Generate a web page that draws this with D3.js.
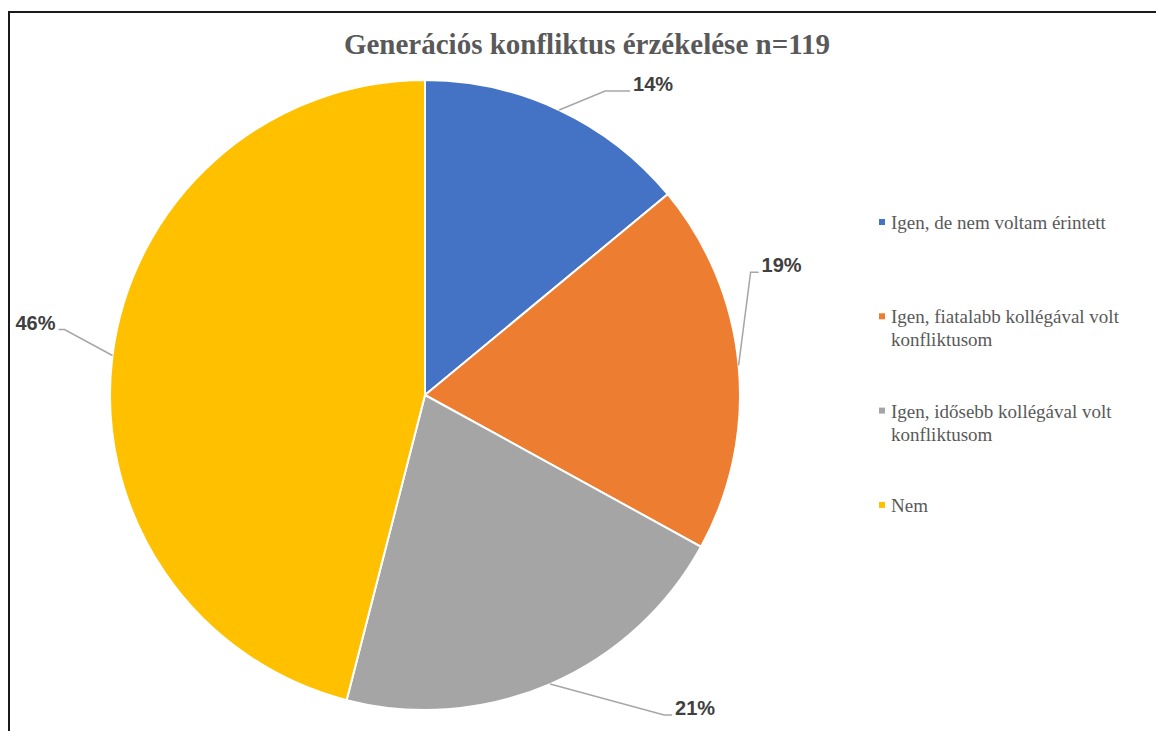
<!DOCTYPE html>
<html>
<head>
<meta charset="utf-8">
<script src="https://cdn.jsdelivr.net/npm/d3@7"></script>
<style>
  body { margin: 0; background: #fff; }
  svg { display: block; }
</style>
</head>
<body>
<div id="chart"></div>
<script>
// data
var title = "Generációs konfliktus érzékelése n=119";
var categories = [
    "Igen, de nem voltam érintett",
    "Igen, fiatalabb kollégával volt konfliktusom",
    "Igen, idősebb kollégával volt konfliktusom",
    "Nem"
];
var legendLines = [
    ["Igen, de nem voltam érintett"],
    ["Igen, fiatalabb kollégával volt", "konfliktusom"],
    ["Igen, idősebb kollégával volt", "konfliktusom"],
    ["Nem"]
];
var shares = [14, 19, 21, 46];
var colors = ["#4472C4", "#ED7D31", "#A5A5A5", "#FFC000"];

// layout
var width = 1156, height = 731;
var cx = 425, cy = 395, radius = 315;
// label text position (x, baseline) relative to the slice's anchor on the rim
var labelOffsets = [[74, -19], [23, -93], [125, 31], [-57, -26]];

var svg = d3.select("#chart").append("svg")
    .attr("width", width)
    .attr("height", height);

// frame
svg.append("path")
    .attr("d", "M9," + height + " L9,12 L" + width + ",12")
    .attr("fill", "none")
    .attr("stroke", "#1a1a1a")
    .attr("stroke-width", 2);

svg.append("text")
    .attr("x", 587)
    .attr("y", 54)
    .attr("text-anchor", "middle")
    .attr("font-family", "'Liberation Serif', 'Times New Roman', serif")
    .attr("font-weight", "bold")
    .attr("font-size", 29)
    .attr("fill", "#595959")
    .text(title);

var pie = d3.pie().sort(null).value(function (d) { return d; });
var arcs = pie(shares);
var arc = d3.arc().innerRadius(0).outerRadius(radius);

var g = svg.append("g").attr("transform", "translate(" + cx + "," + cy + ")");

g.selectAll("path.slice")
    .data(arcs).enter().append("path")
    .attr("class", "slice")
    .attr("d", arc)
    .attr("fill", function (d, i) { return colors[i]; })
    .attr("stroke", "#fff")
    .attr("stroke-width", 2);

var total = d3.sum(shares);
var fmt = d3.format(".0%");

arcs.forEach(function (d, i) {
    var mid = (d.startAngle + d.endAngle) / 2;
    var ax = Math.sin(mid) * radius;
    var ay = -Math.cos(mid) * radius;
    var tx = ax + labelOffsets[i][0];
    var ty = ay + labelOffsets[i][1];
    var right = tx > ax;
    var ex = right ? tx - 3 : tx + 3;
    var kx = right ? ex - 8 : ex + 6;
    if (i === 0) kx = ex - 25;
    g.append("polyline")
        .attr("points", [[ax, ay], [kx, ty], [ex, ty]].map(function (p) { return p.join(","); }).join(" "))
        .attr("fill", "none")
        .attr("stroke", "#A6A6A6")
        .attr("stroke-width", 1.5);
    g.append("text")
        .attr("x", tx)
        .attr("y", ty)
        .attr("text-anchor", right ? "start" : "end")
        .attr("font-family", "'Liberation Sans', Arial, sans-serif")
        .attr("font-weight", "bold")
        .attr("font-size", 20)
        .attr("fill", "#404040")
        .text(fmt(d.value / total));
});

// legend
var legend = svg.append("g").attr("transform", "translate(879,229)");
var item = legend.selectAll("g")
    .data(categories).enter().append("g")
    .attr("transform", function (d, i) { return "translate(0," + (i * 94.3) + ")"; });

item.append("rect")
    .attr("x", 0)
    .attr("y", -10)
    .attr("width", 6)
    .attr("height", 6)
    .attr("fill", function (d, i) { return colors[i]; });

item.append("text")
    .attr("font-family", "'Liberation Serif', 'Times New Roman', serif")
    .attr("font-size", 19)
    .attr("fill", "#595959")
    .selectAll("tspan")
    .data(function (d, i) { return legendLines[i]; })
    .enter().append("tspan")
    .attr("x", 12)
    .attr("y", function (d, j) { return j * 23; })
    .text(function (d) { return d; });
</script>
</body>
</html>
